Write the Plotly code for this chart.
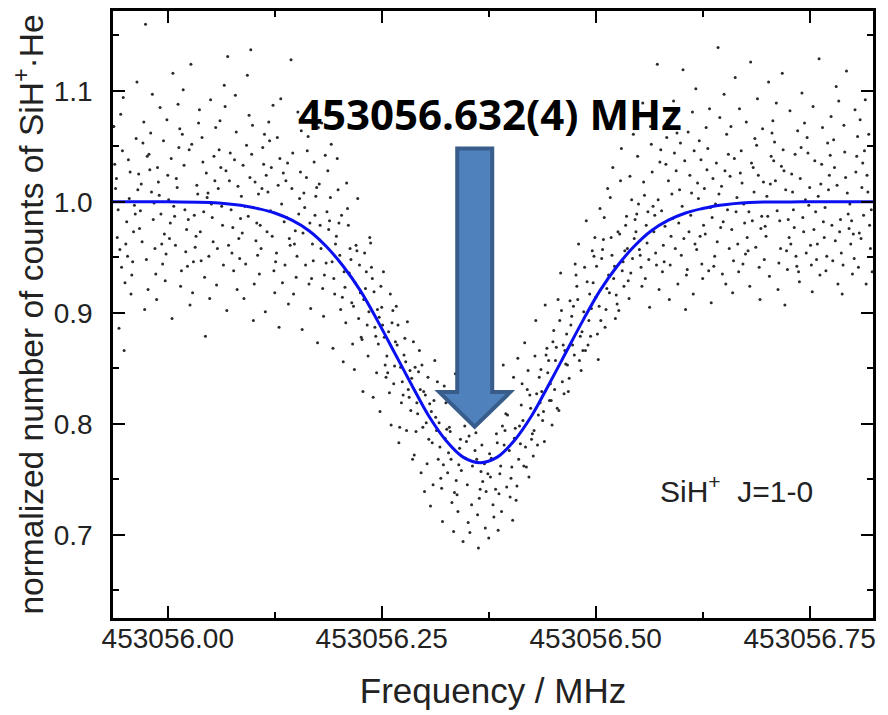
import plotly.graph_objects as go

# frequencies are stored as offsets above this base
FREQ_BASE = 453056.0

# fitted line, offsets in MHz
fit_offset = [-0.064, 0.000, 0.050, 0.085, 0.105, 0.125, 0.145, 0.165, 0.185, 0.205,
              0.225, 0.245, 0.265, 0.285, 0.305, 0.325, 0.345, 0.365, 0.385, 0.405,
              0.425, 0.445, 0.465, 0.485, 0.505, 0.525, 0.545, 0.565, 0.585, 0.605,
              0.625, 0.645, 0.680, 0.740, 0.824]
fit_counts = [1.000, 1.000, 0.9995, 0.997, 0.994, 0.990, 0.9835, 0.974, 0.960, 0.942,
              0.920, 0.893, 0.864, 0.835, 0.807, 0.785, 0.770, 0.765, 0.770, 0.785,
              0.807, 0.835, 0.864, 0.893, 0.920, 0.942, 0.960, 0.974, 0.9835, 0.990,
              0.994, 0.997, 0.9995, 1.000, 1.000]

# scan points, offsets in kHz (in acquisition order), one line per 10 kHz block
scan_khz = [
    -60, -56, -63, -58, -54, -62, -57, -61, -55, -59,
    -48, -53, -50, -45, -52, -49, -44, -47, -51, -46,
    -37, -40, -35, -42, -36, -38, -41, -34, -39, -43,
    -25, -31, -28, -33, -27, -24, -30, -26, -32, -29,
    -19, -14, -17, -20, -15, -21, -18, -23, -16, -22,
    -4, -9, -6, -11, -8, -13, -5, -10, -7, -12,
    4, -2, 1, -3, -1, 3, 6, 2, 0, 5,
    8, 13, 16, 11, 9, 14, 7, 15, 12, 10,
    17, 22, 19, 26, 20, 25, 21, 18, 24, 23,
    29, 35, 28, 33, 27, 30, 34, 31, 36, 32,
    45, 39, 42, 37, 43, 46, 40, 44, 38, 41,
    53, 50, 55, 48, 54, 52, 49, 56, 51, 47,
    60, 64, 57, 62, 66, 58, 63, 59, 65, 61,
    74, 68, 71, 67, 69, 73, 76, 72, 70, 75,
    82, 77, 80, 85, 78, 81, 86, 83, 79, 84,
    87, 92, 89, 96, 90, 95, 91, 88, 94, 93,
    98, 103, 106, 101, 99, 104, 97, 105, 102, 100,
    109, 115, 108, 113, 107, 110, 114, 111, 116, 112,
    121, 126, 123, 120, 125, 119, 122, 117, 124, 118,
    136, 131, 134, 129, 132, 127, 135, 130, 133, 128,
    138, 143, 146, 141, 139, 144, 137, 145, 142, 140,
    151, 156, 153, 150, 155, 149, 152, 147, 154, 148,
    159, 165, 158, 163, 157, 160, 164, 161, 166, 162,
    170, 174, 167, 172, 176, 168, 173, 169, 175, 171,
    186, 181, 184, 179, 182, 177, 185, 180, 183, 178,
    195, 189, 192, 187, 193, 196, 190, 194, 188, 191,
    197, 202, 199, 206, 200, 205, 201, 198, 204, 203,
    214, 208, 211, 207, 209, 213, 216, 212, 210, 215,
    223, 220, 225, 218, 224, 222, 219, 226, 221, 217,
    232, 227, 230, 235, 228, 231, 236, 233, 229, 234,
    246, 241, 244, 239, 242, 237, 245, 240, 243, 238,
    250, 254, 247, 252, 256, 248, 253, 249, 255, 251,
    257, 262, 259, 266, 260, 265, 261, 258, 264, 263,
    268, 273, 276, 271, 269, 274, 267, 275, 272, 270,
    284, 278, 281, 277, 279, 283, 286, 282, 280, 285,
    293, 290, 295, 288, 294, 292, 289, 296, 291, 287,
    305, 299, 302, 297, 303, 306, 300, 304, 298, 301,
    311, 316, 313, 310, 315, 309, 312, 307, 314, 308,
    322, 317, 320, 325, 318, 321, 326, 323, 319, 324,
    329, 335, 328, 333, 327, 330, 334, 331, 336, 332,
    337, 342, 339, 346, 340, 345, 341, 338, 344, 343,
    349, 355, 348, 353, 347, 350, 354, 351, 356, 352,
    365, 359, 362, 357, 363, 366, 360, 364, 358, 361,
    376, 371, 374, 369, 372, 367, 375, 370, 373, 368,
    380, 384, 377, 382, 386, 378, 383, 379, 385, 381,
    391, 396, 393, 390, 395, 389, 392, 387, 394, 388,
    402, 397, 400, 405, 398, 401, 406, 403, 399, 404,
    413, 410, 415, 408, 414, 412, 409, 416, 411, 407,
    418, 423, 426, 421, 419, 424, 417, 425, 422, 420,
    434, 428, 431, 427, 429, 433, 436, 432, 430, 435,
    439, 445, 438, 443, 437, 440, 444, 441, 446, 442,
    454, 448, 451, 447, 449, 453, 456, 452, 450, 455,
    461, 466, 463, 460, 465, 459, 462, 457, 464, 458,
    472, 467, 470, 475, 468, 471, 476, 473, 469, 474,
    485, 479, 482, 477, 483, 486, 480, 484, 478, 481,
    490, 494, 487, 492, 496, 488, 493, 489, 495, 491,
    506, 501, 504, 499, 502, 497, 505, 500, 503, 498,
    507, 512, 509, 516, 510, 515, 511, 508, 514, 513,
    524, 518, 521, 517, 519, 523, 526, 522, 520, 525,
    528, 533, 536, 531, 529, 534, 527, 535, 532, 530,
    541, 546, 543, 540, 545, 539, 542, 537, 544, 538,
    548, 553, 556, 551, 549, 554, 547, 555, 552, 550,
    562, 557, 560, 565, 558, 561, 566, 563, 559, 564,
    573, 570, 575, 568, 574, 572, 569, 576, 571, 567,
    579, 585, 578, 583, 577, 580, 584, 581, 586, 582,
    594, 588, 591, 587, 589, 593, 596, 592, 590, 595,
    600, 604, 597, 602, 606, 598, 603, 599, 605, 601,
    615, 609, 612, 607, 613, 616, 610, 614, 608, 611,
    626, 621, 624, 619, 622, 617, 625, 620, 623, 618,
    627, 632, 629, 636, 630, 635, 631, 628, 634, 633,
    642, 637, 640, 645, 638, 641, 646, 643, 639, 644,
    655, 649, 652, 647, 653, 656, 650, 654, 648, 651,
    664, 658, 661, 657, 659, 663, 666, 662, 660, 665,
    669, 675, 668, 673, 667, 670, 674, 671, 676, 672,
    677, 682, 679, 686, 680, 685, 681, 678, 684, 683,
    688, 693, 696, 691, 689, 694, 687, 695, 692, 690,
    701, 706, 703, 700, 705, 699, 702, 697, 704, 698,
    710, 714, 707, 712, 716, 708, 713, 709, 715, 711,
    723, 720, 725, 718, 724, 722, 719, 726, 721, 717,
    736, 731, 734, 729, 732, 727, 735, 730, 733, 728,
    743, 740, 745, 738, 744, 742, 739, 746, 741, 737,
    756, 751, 754, 749, 752, 747, 755, 750, 753, 748,
    758, 763, 766, 761, 759, 764, 757, 765, 762, 760,
    771, 776, 773, 770, 775, 769, 772, 767, 774, 768,
    780, 784, 777, 782, 786, 778, 783, 779, 785, 781,
    792, 787, 790, 795, 788, 791, 796, 793, 789, 794,
    799, 805, 798, 803, 797, 800, 804, 801, 806, 802,
    814, 808, 811, 807, 809, 813, 816, 812, 810, 815,
    821, 817, 822, 819, 823, 818, 820,
]
scan_counts = [
    1.021, 0.957, 1.068, 0.993, 0.941, 1.034, 0.886, 1.012, 1.079, 0.968,
    0.982, 1.046, 0.927, 1.003, 1.094, 0.962, 1.027, 0.951, 0.866, 1.038,
    1.057, 0.973, 1.011, 0.934, 1.108, 0.989, 0.946, 1.025, 0.997, 0.917,
    0.948, 1.016, 1.072, 0.976, 0.903, 1.041, 0.964, 1.160, 0.992, 1.053,
    1.009, 0.935, 0.984, 1.062, 0.958, 1.029, 1.097, 0.921, 0.999, 1.043,
    0.971, 1.085, 0.944, 1.018, 0.989, 0.912, 1.055, 1.006, 0.962, 1.031,
    1.039, 0.953, 1.002, 0.929, 1.074, 0.981, 1.116, 0.967, 1.024, 0.895,
    0.987, 1.049, 0.938, 1.013, 0.961, 1.066, 0.996, 0.924, 1.088, 1.021,
    1.061, 0.975, 1.033, 0.907, 0.993, 1.047, 0.955, 1.101, 0.984, 0.942,
    0.918, 1.007, 1.052, 0.969, 1.124, 0.946, 1.015, 0.988, 1.071, 0.959,
    1.026, 0.947, 0.991, 1.083, 0.932, 1.004, 1.058, 0.879, 0.973, 1.036,
    0.964, 1.092, 1.019, 0.951, 1.041, 0.986, 0.913, 1.067, 0.998, 1.008,
    1.047, 0.979, 0.925, 1.031, 1.105, 0.958, 0.996, 1.012, 0.943, 1.073,
    0.993, 1.028, 0.961, 1.086, 0.902, 1.044, 0.977, 1.019, 1.131, 0.954,
    1.014, 0.938, 1.063, 0.985, 1.038, 0.921, 1.005, 0.967, 1.096, 0.949,
    0.972, 1.051, 0.913, 1.022, 0.996, 1.078, 0.944, 1.033, 0.987, 1.114,
    1.043, 0.965, 1.007, 0.926, 1.069, 0.981, 1.137, 0.952, 1.018, 0.893,
    0.958, 1.024, 0.979, 1.061, 0.935, 1.012, 0.901, 1.049, 0.973, 1.034,
    1.031, 0.946, 1.087, 0.992, 0.918, 1.055, 0.969, 1.009, 0.938, 1.072,
    0.982, 1.039, 0.927, 1.015, 1.093, 0.954, 1.026, 0.887, 0.998, 1.058,
    1.019, 0.961, 1.044, 0.908, 0.986, 1.128, 0.943, 1.012, 0.967, 1.035,
    0.951, 1.064, 0.989, 0.932, 1.027, 0.974, 1.081, 0.917, 1.003, 0.962,
    1.008, 0.926, 0.972, 1.046, 0.885, 0.995, 1.059, 0.943, 0.981, 1.022,
    0.947, 1.013, 0.904, 0.988, 1.067, 0.931, 1.005, 0.962, 0.873, 1.036,
    0.991, 0.922, 1.042, 0.958, 0.897, 1.016, 0.945, 1.071, 0.934, 0.979,
    0.917, 0.983, 0.946, 1.028, 0.868, 0.962, 1.004, 0.931, 0.975, 1.052,
    0.969, 0.903, 1.011, 0.937, 0.981, 0.856, 0.952, 1.039, 0.914, 0.988,
    0.948, 0.891, 0.979, 0.923, 1.017, 0.958, 0.872, 0.936, 0.994, 0.909,
    0.895, 0.961, 0.918, 0.849, 0.943, 1.003, 0.927, 0.878, 0.956, 0.906,
    0.937, 0.876, 0.954, 0.901, 0.829, 0.922, 0.968, 0.889, 0.912, 0.861,
    0.872, 0.919, 0.846, 0.931, 0.887, 0.963, 0.903, 0.824, 0.879, 0.941,
    0.905, 0.853, 0.896, 0.937, 0.861, 0.811, 0.878, 0.924, 0.842, 0.889,
    0.846, 0.891, 0.828, 0.874, 0.917, 0.852, 0.799, 0.883, 0.836, 0.902,
    0.871, 0.819, 0.862, 0.797, 0.889, 0.838, 0.906, 0.826, 0.851, 0.783,
    0.812, 0.856, 0.831, 0.877, 0.794, 0.848, 0.768, 0.824, 0.892, 0.841,
    0.847, 0.793, 0.831, 0.772, 0.866, 0.809, 0.851, 0.756, 0.819, 0.874,
    0.786, 0.829, 0.801, 0.853, 0.764, 0.818, 0.739, 0.842, 0.797, 0.826,
    0.821, 0.768, 0.806, 0.745, 0.838, 0.783, 0.857, 0.726, 0.794, 0.811,
    0.763, 0.801, 0.742, 0.819, 0.779, 0.712, 0.795, 0.834, 0.751, 0.787,
    0.797, 0.738, 0.774, 0.821, 0.756, 0.793, 0.703, 0.768, 0.845, 0.729,
    0.749, 0.786, 0.721, 0.807, 0.763, 0.694, 0.778, 0.736, 0.819, 0.758,
    0.784, 0.727, 0.769, 0.702, 0.798, 0.745, 0.823, 0.711, 0.762, 0.789,
    0.741, 0.776, 0.718, 0.801, 0.688, 0.757, 0.792, 0.733, 0.849, 0.768,
    0.773, 0.706, 0.755, 0.812, 0.739, 0.781, 0.697, 0.764, 0.826, 0.748,
    0.727, 0.791, 0.752, 0.816, 0.704, 0.769, 0.741, 0.835, 0.783, 0.716,
    0.798, 0.743, 0.781, 0.721, 0.809, 0.762, 0.853, 0.737, 0.794, 0.755,
    0.761, 0.808, 0.734, 0.787, 0.829, 0.751, 0.796, 0.713, 0.776, 0.842,
    0.817, 0.768, 0.803, 0.744, 0.836, 0.782, 0.859, 0.762, 0.798, 0.731,
    0.779, 0.826, 0.791, 0.848, 0.761, 0.814, 0.873, 0.786, 0.752, 0.831,
    0.842, 0.794, 0.827, 0.771, 0.861, 0.808, 0.849, 0.781, 0.893, 0.819,
    0.811, 0.857, 0.803, 0.868, 0.829, 0.784, 0.846, 0.907, 0.821, 0.862,
    0.869, 0.821, 0.884, 0.836, 0.799, 0.857, 0.912, 0.831, 0.874, 0.814,
    0.838, 0.881, 0.827, 0.902, 0.854, 0.936, 0.871, 0.812, 0.866, 0.893,
    0.897, 0.853, 0.911, 0.862, 0.829, 0.889, 0.944, 0.871, 0.841, 0.906,
    0.866, 0.912, 0.879, 0.934, 0.848, 0.901, 0.962, 0.883, 0.924, 0.857,
    0.928, 0.879, 0.941, 0.893, 0.956, 0.866, 0.917, 0.983, 0.904, 0.871,
    0.893, 0.942, 0.906, 0.968, 0.881, 0.927, 0.994, 0.914, 0.858, 0.951,
    0.949, 0.903, 0.966, 0.918, 0.986, 0.934, 0.887, 0.957, 1.012, 0.922,
    0.916, 0.968, 0.931, 1.004, 0.952, 0.895, 0.973, 0.942, 1.031, 0.908,
    0.971, 0.924, 0.987, 0.938, 1.019, 0.956, 0.902, 0.979, 0.946, 1.048,
    0.936, 0.984, 0.949, 1.023, 0.967, 0.913, 1.002, 0.958, 1.061, 0.929,
    0.989, 0.941, 1.018, 0.957, 1.041, 0.924, 0.973, 1.089, 0.952, 0.998,
    0.948, 1.006, 0.963, 1.052, 0.931, 0.991, 1.027, 0.905, 0.979, 1.068,
    1.002, 0.954, 1.036, 0.973, 0.921, 1.124, 0.988, 1.047, 0.943, 0.996,
    0.961, 1.019, 0.937, 1.058, 0.992, 0.946, 1.073, 0.978, 0.912, 1.034,
    1.028, 0.969, 1.091, 0.943, 1.007, 0.958, 0.926, 1.044, 0.985, 1.062,
    0.952, 1.037, 0.981, 1.119, 0.934, 1.011, 0.967, 1.053, 0.903, 0.996,
    1.046, 0.973, 1.008, 0.939, 1.081, 0.962, 1.024, 0.917, 1.063, 0.988,
    0.979, 1.055, 0.944, 1.017, 0.969, 1.102, 0.931, 1.003, 1.038, 0.957,
    1.012, 0.938, 1.067, 0.986, 1.029, 0.909, 1.048, 0.971, 0.995, 1.084,
    0.964, 1.021, 0.998, 1.076, 0.942, 1.035, 0.977, 1.139, 0.951, 1.007,
    1.043, 0.982, 0.926, 1.014, 1.061, 0.958, 1.097, 0.993, 0.935, 1.028,
    0.991, 1.068, 0.947, 1.023, 0.975, 1.112, 0.962, 1.039, 0.918, 1.004,
    1.026, 0.953, 1.084, 0.998, 0.937, 1.046, 0.981, 1.017, 1.072, 0.944,
    0.968, 1.035, 0.991, 1.057, 0.924, 1.009, 1.126, 0.956, 1.031, 0.983,
    1.051, 0.976, 1.018, 0.941, 1.093, 0.987, 0.959, 1.066, 0.912, 1.024,
    0.987, 1.062, 0.933, 1.005, 1.041, 0.969, 1.108, 0.948, 1.016, 0.978,
    1.019, 0.945, 1.073, 0.992, 0.958, 1.037, 0.921, 1.054, 0.983, 1.089,
    0.956, 1.028, 0.984, 1.116, 0.939, 1.011, 1.047, 0.968, 0.907, 1.032,
    1.064, 0.993, 0.951, 1.025, 0.977, 1.082, 0.942, 1.009, 1.043, 0.962,
    0.973, 1.049, 1.002, 0.928, 1.071, 0.986, 1.021, 0.954, 1.098, 0.937,
    1.037, 0.961, 1.086, 0.997, 0.943, 1.058, 0.975, 1.013, 0.919, 1.044,
    0.948, 1.016, 0.982, 1.129, 0.962, 1.034, 0.991, 1.067, 0.934, 1.005,
    1.053, 0.979, 1.024, 0.951, 1.077, 0.938, 1.011, 0.968, 1.042, 0.995,
    0.965, 1.091, 0.947, 1.015, 0.984, 1.056, 0.926, 1.031, 0.973, 1.104,
    1.022, 0.954, 1.069, 0.989, 0.917, 1.045, 0.976, 1.118, 0.943, 1.008,
    0.983, 1.041, 0.962, 1.083, 0.998, 0.935, 1.027, 0.971, 1.059, 0.949,
    1.046, 0.972, 1.013, 0.941, 1.074, 0.988, 0.926, 1.035, 0.967, 1.092,
    0.958, 1.024, 0.993, 1.061, 0.937, 1.009, 0.979,
]

scan_freq = [FREQ_BASE + k / 1000 for k in scan_khz]
fit_freq = [FREQ_BASE + v for v in fit_offset]

fig = go.Figure()

fig.add_trace(go.Scatter(
    x=scan_freq, y=scan_counts, mode='markers',
    marker=dict(size=3, color='#2a2a2a', line=dict(width=0)),
    hoverinfo='skip', showlegend=False,
))
fig.add_trace(go.Scatter(
    x=fit_freq, y=fit_counts, mode='lines',
    line=dict(color='#0a10f0', width=3, shape='spline'),
    hoverinfo='skip', showlegend=False,
))

# block arrow pointing at the line centre
cx = FREQ_BASE + 0.3586
sh_l, sh_r = FREQ_BASE + 0.3382, FREQ_BASE + 0.3791
hd_l, hd_r = FREQ_BASE + 0.3172, FREQ_BASE + 0.4002
top, neck, tip = 1.048, 0.8286, 0.7973
arrow_path = (f"M {sh_l},{top} L {sh_r},{top} L {sh_r},{neck} L {hd_r},{neck} "
              f"L {cx},{tip} L {hd_l},{neck} L {sh_l},{neck} Z")
fig.add_shape(type='path', path=arrow_path, xref='x', yref='y',
              fillcolor='#4f81bd', line=dict(color='#385d8a', width=4))

fig.add_annotation(x=FREQ_BASE + 0.377, y=1.080, xref='x', yref='y',
                   text='<b>453056.632(4) MHz</b>', showarrow=False,
                   font=dict(family='Open Sans', size=42, color='black'))
fig.add_annotation(x=FREQ_BASE + 0.665, y=0.7415, xref='x', yref='y',
                   text='SiH<sup>+</sup>\u00a0\u00a0J=1-0', showarrow=False,
                   font=dict(family='Liberation Sans', size=30, color='#222222'))

axis_style = dict(
    showline=True, linecolor='black', linewidth=2.5, mirror='allticks',
    ticks='inside', ticklen=12, tickwidth=2, tickcolor='black',
    showgrid=False, zeroline=False,
    tickfont=dict(family='Liberation Sans', size=28, color='#222222'),
)

fig.update_xaxes(
    range=[FREQ_BASE - 0.064, FREQ_BASE + 0.824],
    tickmode='linear', tick0=FREQ_BASE, dtick=0.25, tickformat='.2f',
    ticklabelstandoff=-6,
    minor=dict(ticks='inside', ticklen=6, tickwidth=2, tickcolor='black',
               tick0=FREQ_BASE, dtick=0.125),
    title=dict(text='Frequency / MHz', standoff=26,
               font=dict(family='Liberation Sans', size=35, color='#222222')),
    **axis_style,
)
fig.update_yaxes(
    range=[0.625, 1.172],
    tickmode='linear', tick0=0.0, dtick=0.1, tickformat='.1f',
    ticklabelstandoff=12,
    minor=dict(ticks='inside', ticklen=6, tickwidth=2, tickcolor='black',
               tick0=0.0, dtick=0.05),
    title=dict(text='normalized number of counts of SiH<sup>+</sup>\u00b7He', standoff=0,
               font=dict(family='Liberation Sans', size=33.5, color='#222222')),
    **axis_style,
)

# the page adds an 8px body margin, so the plot box is shifted by that amount
fig.update_layout(
    width=888, height=715,
    margin=dict(l=105, r=23, t=0, b=105),
    paper_bgcolor='white', plot_bgcolor='white',
    font=dict(family='Liberation Sans', color='#222222'),
    showlegend=False,
)

fig.write_html("out.html")
